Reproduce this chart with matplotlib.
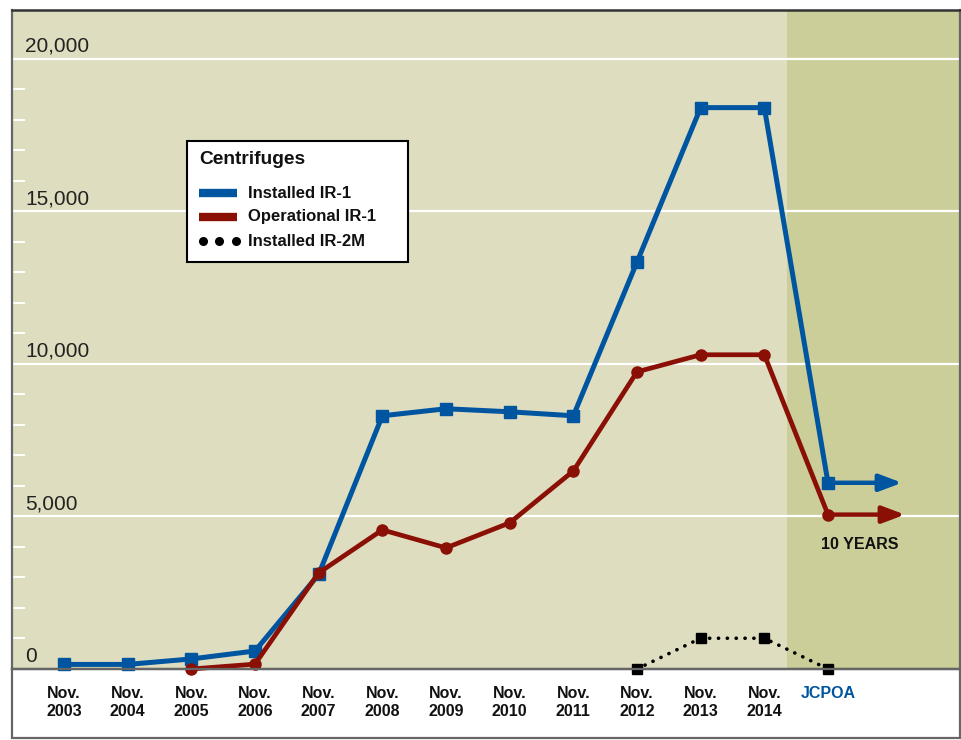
import matplotlib
matplotlib.use("Agg")
import matplotlib.pyplot as plt
from matplotlib.lines import Line2D
from matplotlib.patches import Rectangle

plt.rcParams['font.family'] = ['Liberation Sans', 'DejaVu Sans']

# ---- data ----
categories = ["Nov.\n2003", "Nov.\n2004", "Nov.\n2005", "Nov.\n2006", "Nov.\n2007",
              "Nov.\n2008", "Nov.\n2009", "Nov.\n2010", "Nov.\n2011", "Nov.\n2012",
              "Nov.\n2013", "Nov.\n2014", "JCPOA"]
installed_ir1 = [150, 150, 330, 590, 3100, 8300, 8530, 8430, 8300, 13340, 18400, 18400, 6104]
operational_ir1 = [None, None, 0, 160, 3150, 4560, 3970, 4790, 6490, 9740, 10300, 10300, 5060]
installed_ir2m = [None] * 9 + [0, 1008, 1008, 0]
ytick_values = [0, 5000, 10000, 15000, 20000]
ytick_labels = ["0", "5,000", "10,000", "15,000", "20,000"]
legend_title = "Centrifuges"
legend_labels = ["Installed IR-1", "Operational IR-1", "Installed IR-2M"]
annotation_text = "10 YEARS"

BLUE = "#0055A0"
RED = "#8A0F05"
BG = "#DEDDBF"
SHADE = "#CBCE98"

W, H = 962, 740
fig = plt.figure(figsize=(W / 100, H / 100), dpi=100)
fig.patch.set_facecolor("white")

def fx(x):
    return x / W

def fy(y):
    return 1 - y / H

ax_left, ax_right, ax_top, ax_bottom = 12, 960, 10, 669
ax = fig.add_axes([fx(ax_left), fy(ax_bottom), (ax_right - ax_left) / W, (ax_bottom - ax_top) / H])
ax.set_facecolor(BG)

n = len(categories)
xs = list(range(n))
step = 63.67
ax.set_xlim(-(64 - ax_left) / step, (n - 1) + (ax_right - 828) / step)
ax.set_ylim(0, 21600)

# shaded JCPOA region
ax.axvspan((787 - 64) / step, ax.get_xlim()[1], color=SHADE, zorder=0.5, lw=0)

# gridlines
for v in ytick_values[1:]:
    ax.axhline(v, color="white", lw=1.6, zorder=1)
ax.set_yticks(ytick_values)
ax.set_yticklabels([])
ax.tick_params(axis='y', which='major', length=0)
ax.set_yticks([v for v in range(1000, 21000, 1000) if v % 5000 != 0], minor=True)
ax.tick_params(axis='y', which='minor', direction='in', length=9.5, width=1.4, color='white')

for v, lab in zip(ytick_values, ytick_labels):
    ax.annotate(lab, xy=(0, v), xycoords=('axes fraction', 'data'),
                xytext=(13, 7), textcoords='offset pixels',
                ha='left', va='baseline', fontsize=15, color="#222222", zorder=6)

# lines
def clean(vals):
    pts = [(x, v) for x, v in zip(xs, vals) if v is not None]
    return [p[0] for p in pts], [p[1] for p in pts]

bx, by = clean(installed_ir1)
rx, ry = clean(operational_ir1)
gx, gy = clean(installed_ir2m)

ax.plot(bx, by, color=BLUE, lw=3.6, marker='s', markersize=8.5, zorder=4, clip_on=False)
ax.plot(rx, ry, color=RED, lw=3.4, marker='o', markersize=8, zorder=5, clip_on=False)
ax.plot(gx, gy, color='black', lw=2.6, linestyle=(0, (0.05, 2.4)), dash_capstyle='round',
        marker='s', markersize=7, zorder=5, clip_on=False)

# arrows
ax.annotate('', xy=(12 + (902 - 828) / step, installed_ir1[-1]), xytext=(12, installed_ir1[-1]),
            arrowprops=dict(arrowstyle='-|>,head_length=0.85,head_width=0.32', color=BLUE,
                            lw=3.2, shrinkA=0, shrinkB=0, mutation_scale=16), zorder=4)
ax.annotate('', xy=(12 + (905 - 828) / step, operational_ir1[-1]), xytext=(12, operational_ir1[-1]),
            arrowprops=dict(arrowstyle='-|>,head_length=0.85,head_width=0.32', color=RED,
                            lw=3.2, shrinkA=0, shrinkB=0, mutation_scale=16), zorder=5)
ax.annotate(annotation_text, xy=(12, operational_ir1[-1]), xytext=(32, -30),
            textcoords='offset pixels', ha='center', va='center', fontsize=11.5,
            fontweight='bold', color='#111111')

# x ticks
ax.set_xticks(xs)
ax.set_xticklabels(categories, fontsize=11.5, fontweight='bold', color='#111111',
                   linespacing=1.3, va='top')
ax.get_xticklabels()[-1].set_color(BLUE)
ax.tick_params(axis='x', length=0, pad=12)

# spines
for s in ['left', 'right']:
    ax.spines[s].set_color('#666666')
    ax.spines[s].set_linewidth(1.6)
ax.spines['top'].set_color('#333333')
ax.spines['top'].set_linewidth(1.8)
ax.spines['bottom'].set_color('#222222')
ax.spines['bottom'].set_linewidth(1.6)

# outer frame below the axes
fig.add_artist(Rectangle((fx(ax_left), fy(738)), (ax_right - ax_left) / W, (738 - ax_bottom) / H,
                         transform=fig.transFigure, fill=False, edgecolor='#666666', lw=1.6))

# legend (drawn manually for exact placement)
fig.add_artist(Rectangle((fx(187), fy(262)), (408 - 187) / W, (262 - 141) / H,
                         transform=fig.transFigure, facecolor='white', edgecolor='black',
                         lw=1.5, zorder=10))
fig.text(fx(199), fy(160), legend_title, fontsize=13.8, fontweight='bold', color='#111111',
         ha='left', va='center', zorder=11)
entry_y = [193, 217, 241]
fig.add_artist(Line2D([fx(199), fx(237)], [fy(entry_y[0])] * 2, transform=fig.transFigure,
                      color=BLUE, lw=6, solid_capstyle='butt', zorder=11))
fig.add_artist(Line2D([fx(199), fx(237)], [fy(entry_y[1])] * 2, transform=fig.transFigure,
                      color=RED, lw=6, solid_capstyle='butt', zorder=11))
fig.add_artist(Line2D([fx(203), fx(219.5), fx(236)], [fy(entry_y[2])] * 3, transform=fig.transFigure,
                      color='black', linestyle='none', marker='o', markersize=5.5, zorder=11))
for yy, lab in zip(entry_y, legend_labels):
    fig.text(fx(248), fy(yy), lab, fontsize=12, fontweight='bold', color='#111111',
             ha='left', va='center', zorder=11)

fig.savefig("out.png", dpi=100, facecolor='white')
